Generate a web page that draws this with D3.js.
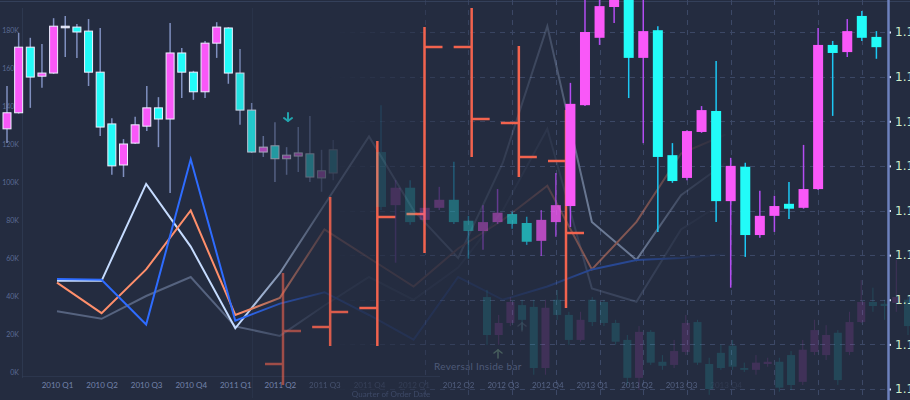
<!DOCTYPE html>
<html><head><meta charset="utf-8">
<script src="https://cdn.jsdelivr.net/npm/d3@7"></script>
<style>
html,body{margin:0;padding:0;background:#242c40;overflow:hidden}
svg{display:block}
</style></head><body>
<svg id="c" width="910" height="400"></svg>
<script>
// ---------- DATA ----------
const quarters = ["2010 Q1","2010 Q2","2010 Q3","2010 Q4","2011 Q1","2011 Q2","2011 Q3","2011 Q4",
                  "2012 Q1","2012 Q2","2012 Q3","2012 Q4","2013 Q1","2013 Q2","2013 Q3","2013 Q4"];
const kTicks = [0,20,40,60,80,100,120,140,160,180];
const priceTicks = [1.1100,1.1110,1.1120,1.1130,1.1140,1.1150,1.1160,1.1170,1.1180];

// line series (thousands)
const seriesLight  = [48,48,99,66,23,52,88,124,85,60,110,182,79,59,93,110];
const seriesBlue   = [49,48.5,25,112,27,36,42,30,17,50,38,45,54,59,60,62];
const seriesOrange = [47,31,54,85,30,39,75,60,45,65,80,98,54,79,115,125];
const seriesGray   = [32,28,40,50,24,19,35,50,38,55,85,128,44,37,75,90];

// left candle set [open, high, low, close]
const leftCandles = [
 [1.11583,1.11679,1.11551,1.11619],[1.11619,1.11798,1.11617,1.11766],[1.11766,1.11787,1.11630,1.11699],
 [1.11701,1.11773,1.11675,1.11708],[1.11708,1.11831,1.11706,1.11813],[1.11813,1.11836,1.11744,1.11813],
 [1.11811,1.11818,1.11742,1.11800],[1.11802,1.11829,1.11679,1.11710],[1.11710,1.11809,1.11567,1.11587],
 [1.11594,1.11607,1.11480,1.11500],[1.11502,1.11560,1.11475,1.11549],[1.11551,1.11610,1.11549,1.11592],
 [1.11589,1.11679,1.11578,1.11630],[1.11630,1.11654,1.11542,1.11605],[1.11605,1.11820,1.11439,1.11753],
 [1.11753,1.11764,1.11652,1.11710],[1.11710,1.11713,1.11648,1.11666],[1.11666,1.11780,1.11652,1.11775],
 [1.11775,1.11822,1.11742,1.11811],[1.11809,1.11811,1.11684,1.11708],[1.11708,1.11762,1.11592,1.11625],
 [1.11625,1.11641,1.11529,1.11531],[1.11531,1.11567,1.11520,1.11542],[1.11545,1.11598,1.11464,1.11516],
 [1.11516,1.11542,1.11480,1.11524],[1.11522,1.11587,1.11486,1.11529],[1.11527,1.11612,1.11464,1.11475],
 [1.11473,1.11536,1.11442,1.11489],[1.11536,1.11558,1.11468,1.11484]
];

// right candle set [open, high, low, close]
const rightCandles = [
 [1.11531,1.11636,1.11401,1.11408],[1.11412,1.11468,1.11283,1.11451],[1.11451,1.11468,1.11368,1.11374],
 [1.11379,1.11424,1.11370,1.11406],[1.11406,1.11453,1.11401,1.11424],[1.11424,1.11509,1.11370,1.11374],
 [1.11377,1.11388,1.11292,1.11354],[1.11354,1.11412,1.11312,1.11374],[1.11374,1.11448,1.11370,1.11395],
 [1.11392,1.11397,1.11359,1.11370],[1.11372,1.11386,1.11323,1.11330],[1.11332,1.11401,1.11298,1.11379],
 [1.11374,1.11484,1.11341,1.11412],[1.11410,1.11686,1.11363,1.11639],[1.11636,1.11883,1.11634,1.11800],
 [1.11787,1.11876,1.11771,1.11858],[1.11856,1.11920,1.11820,1.11895],[1.11900,1.11915,1.11652,1.11742],
 [1.11742,1.11883,1.11551,1.11802],[1.11804,1.11813,1.11352,1.11520],[1.11524,1.11551,1.11462,1.11466],
 [1.11473,1.11580,1.11468,1.11578],[1.11576,1.11634,1.11574,1.11625],[1.11623,1.11735,1.11374,1.11421],
 [1.11421,1.11518,1.11227,1.11500],[1.11498,1.11507,1.11296,1.11345],[1.11345,1.11444,1.11339,1.11388],
 [1.11388,1.11433,1.11352,1.11410],[1.11415,1.11464,1.11381,1.11404],[1.11406,1.11547,1.11404,1.11448],
 [1.11448,1.11809,1.11446,1.11771],[1.11771,1.11780,1.11612,1.11753],[1.11755,1.11829,1.11744,1.11802],
 [1.11836,1.11847,1.11780,1.11787],[1.11789,1.11802,1.11740,1.11766]
];

// faint background candle set [open, high, low, close]
const ghostCandles = [
 [1.11206,1.11222,1.11099,1.11121],[1.11121,1.11166,1.11099,1.11148],[1.11148,1.11206,1.11141,1.11195],
 [1.11188,1.11200,1.11132,1.11155],[1.11184,1.11200,1.11032,1.11047],[1.11047,1.11200,1.11032,1.11182],
 [1.11200,1.11222,1.11155,1.11166],[1.11166,1.11173,1.11099,1.11110],[1.11110,1.11173,1.11106,1.11155],
 [1.11200,1.11206,1.11141,1.11150],[1.11195,1.11200,1.11141,1.11148],[1.11148,1.11155,1.11099,1.11106],
 [1.11110,1.11121,1.11009,1.11025],[1.11025,1.11141,1.10998,1.11128],[1.11128,1.11132,1.11054,1.11059],
 [1.11061,1.11076,1.11043,1.11052],[1.11054,1.11110,1.11047,1.11085],[1.11083,1.11166,1.11076,1.11148],
 [1.11150,1.11155,1.11054,1.11059],[1.11056,1.11070,1.10987,1.11000],[1.11081,1.11099,1.11043,1.11047],
 [1.11097,1.11110,1.11043,1.11050],[1.11047,1.11059,1.11038,1.11043],[1.11043,1.11076,1.11032,1.11059],
 [1.11056,1.11070,1.11050,1.11061],[1.11061,1.11070,1.10994,1.11003],[1.11076,1.11085,1.10998,1.11009],
 [1.11016,1.11110,1.11009,1.11088],[1.11083,1.11155,1.11076,1.11132],[1.11076,1.11143,1.11065,1.11121],
 [1.11126,1.11132,1.11009,1.11020],[1.11083,1.11173,1.11076,1.11150],[1.11150,1.11244,1.11148,1.11195],
 [1.11195,1.11227,1.11173,1.11186],[1.11191,1.11200,1.11155,1.11186],[1.11193,1.11289,1.11173,1.11206],
 [1.11200,1.11206,1.11121,1.11141]
];

// open-high-low-close bars (index units)
const hlcOpen  = [9,18.25,23,46.5,88.25,69.25,59.75];
const hlcHigh  = [31.75,50.75,64.75,93.25,98,88.5,72.5];
const hlcLow   = [3.75,13.5,13.5,36.75,60.75,55.75,23];
const hlcClose = [17.25,22,45.75,88.25,70.25,60.75,41.75];

// ---------- SETUP ----------
const W = 910, H = 400;
const svg = d3.select("#c");
const defs = svg.append("defs");
svg.append("rect").attr("width",W).attr("height",H).attr("fill","#242c40");

function fadeMask(id, stops){
  const lg = defs.append("linearGradient").attr("id",id+"g").attr("gradientUnits","userSpaceOnUse")
    .attr("x1",0).attr("x2",W).attr("y1",0).attr("y2",0);
  stops.forEach(([x,o]) => lg.append("stop").attr("offset",x/W).attr("stop-color","#fff").attr("stop-opacity",o));
  defs.append("mask").attr("id",id).attr("maskUnits","userSpaceOnUse").attr("x",0).attr("y",0)
    .attr("width",W).attr("height",H).append("rect").attr("width",W).attr("height",H).attr("fill",`url(#${id}g)`);
}
fadeMask("mLines",[[0,1],[240,1],[285,0.5],[325,0.16],[380,0.1],[500,0.09],[547,0.18],[590,0.45],[640,0.42],[690,0.12],[735,0]]);
fadeMask("mGrid",[[0,0],[330,0],[430,0.6],[520,1],[W,1]]);

const xQ = d3.scalePoint().domain(quarters).range([57,725.6]);
const yK = d3.scaleLinear().domain([0,180]).range([372,30]);
const yP = d3.scaleLinear().domain([1.1100,1.1180]).range([389,32]);
const xL = d3.scaleLinear().domain([0,28]).range([7,333.2]);
const xR = d3.scaleLinear().domain([0,34]).range([381,876.4]);
const xG = d3.scaleLinear().domain([0,36]).range([487,908]);
const xH = d3.scaleLinear().domain([0,6]).range([283,566]);
const yH = d3.scaleLinear().domain([0,100]).range([400,0]);

const UP = "#f958f8", DOWN = "#22fbf8";

// ---------- FAINT FRAME LINES ----------
const frame = svg.append("g").attr("stroke","#34405a").attr("stroke-width",1);
frame.append("line").attr("x1",0).attr("x2",W).attr("y1",1.5).attr("y2",1.5);
frame.append("line").attr("x1",22.5).attr("x2",22.5).attr("y1",8).attr("y2",378).attr("opacity",0.6);
frame.append("line").attr("x1",252.5).attr("x2",252.5).attr("y1",8).attr("y2",398).attr("opacity",0.35);
frame.append("line").attr("x1",22).attr("x2",440).attr("y1",376.5).attr("y2",376.5).attr("opacity",0.5);

// ---------- GRID ----------
const grid = svg.append("g").attr("mask","url(#mGrid)").attr("stroke","#3c4866").attr("stroke-width",1).attr("stroke-dasharray","5,5");
grid.selectAll(".h").data(priceTicks).join("line").attr("class","h")
  .attr("x1",300).attr("x2",888).attr("y1",d=>Math.round(yP(d))+0.5).attr("y2",d=>Math.round(yP(d))+0.5);
grid.selectAll(".v").data(d3.range(3,34,3)).join("line").attr("class","v")
  .attr("x1",d=>Math.round(xR(d))+0.5).attr("x2",d=>Math.round(xR(d))+0.5).attr("y1",0).attr("y2",H);

// ---------- CANDLE HELPER ----------
function candles(g, data, xs, bw, opFn, o){
  const items = data.map((d,i)=>({i,open:d[0],high:d[1],low:d[2],close:d[3]}));
  const gg = g.selectAll("g").data(items).join("g").attr("opacity",d=>opFn(xs(d.i)));
  gg.append("line").attr("x1",d=>xs(d.i)).attr("x2",d=>xs(d.i))
    .attr("y1",d=>yP(d.high)).attr("y2",d=>yP(d.low))
    .attr("stroke",d=>d.close>d.open?o.wickUp:(d.close<d.open?o.wickDown:o.wickDoji))
    .attr("stroke-width",o.wickW);
  gg.append("rect").attr("x",d=>xs(d.i)-bw/2).attr("width",bw)
    .attr("y",d=>yP(Math.max(d.open,d.close)))
    .attr("height",d=>Math.max(1.6,Math.abs(yP(d.open)-yP(d.close))))
    .attr("fill",d=>d.close>d.open?UP:(d.close<d.open?DOWN:o.doji))
    .attr("stroke",o.stroke||"none").attr("stroke-width",o.stroke?1:0);
}

// ghost candles
candles(svg.append("g"), ghostCandles, xG, 8, ()=>0.13,
  {wickUp:UP,wickDown:DOWN,wickDoji:"#aaa",wickW:1,doji:"#aaa"});

// ---------- LINES ----------
const lineG = svg.append("g").attr("mask","url(#mLines)");
const line = d3.line().x((d,i)=>xQ(quarters[i])).y(d=>yK(d));
[[seriesGray,"#56637f"],[seriesLight,"#c6dcff"],[seriesOrange,"#ff8f6b"],[seriesBlue,"#2e6cff"]].forEach(([s,c])=>{
  lineG.append("path").datum(s).attr("d",line).attr("fill","none").attr("stroke",c)
    .attr("stroke-width",2).attr("stroke-linejoin","miter");
});

// ---------- LEFT AXIS ----------
const la = svg.append("g").attr("transform","translate(19,0)")
  .call(d3.axisLeft(yK).tickValues(kTicks).tickFormat(d=>d+"K").tickSize(0).tickPadding(0));
la.select(".domain").remove();
la.selectAll("text").attr("fill","#5b6b94").attr("font-size",7).attr("font-family","Lato, 'Open Sans', sans-serif");

// ---------- BOTTOM AXIS ----------
const labOp = d3.scaleLinear().domain([280,320,365,415,455,500,685,720]).range([1,0.45,0.22,0.2,0.55,0.65,0.6,0.15]).clamp(true);
const ba = svg.append("g").attr("transform","translate(0,379)")
  .call(d3.axisBottom(xQ).tickSize(0).tickPadding(3));
ba.select(".domain").remove();
ba.selectAll("text").attr("fill","#7383ab").attr("font-size",8).attr("font-family","Lato, 'Open Sans', sans-serif")
  .attr("opacity",d=>labOp(xQ(d)));
svg.append("text").attr("x",391).attr("y",397).attr("text-anchor","middle").attr("font-size",8)
  .attr("font-family","Lato, 'Open Sans', sans-serif").attr("fill","#5b6b94").attr("opacity",0.45)
  .text("Quarter of Order Date");

// ---------- OHLC BARS ----------
const hOp = d3.scaleLinear().domain([283,330,377]).range([0.6,0.88,1]).clamp(true);
const hb = svg.append("g").attr("stroke","#f2634e").attr("stroke-width",2.5);
hlcOpen.forEach((o,i)=>{
  const x = xH(i);
  const g = hb.append("g").attr("opacity",hOp(x));
  g.append("line").attr("x1",x).attr("x2",x).attr("y1",yH(hlcHigh[i])).attr("y2",yH(hlcLow[i]));
  g.append("line").attr("x1",x-18).attr("x2",x).attr("y1",yH(o)).attr("y2",yH(o));
  g.append("line").attr("x1",x).attr("x2",x+18).attr("y1",yH(hlcClose[i])).attr("y2",yH(hlcClose[i]));
});

// ---------- LEFT CANDLES ----------
const opL = d3.scaleLinear().domain([0,232,245,258,270,290,312,335]).range([1,1,0.8,0.7,0.55,0.45,0.3,0.12]).clamp(true);
candles(svg.append("g"), leftCandles, xL, 8, opL,
  {wickUp:"#7f8fbf",wickDown:"#7f8fbf",wickDoji:"#7f8fbf",wickW:1.5,doji:"#dfe3f2",stroke:"#eef0ff"});

// ---------- RIGHT CANDLES ----------
const opR = d3.scaleLinear().domain([381,440,500,540,560,570]).range([0.12,0.25,0.45,0.68,0.8,1]).clamp(true);
candles(svg.append("g"), rightCandles, xR, 10, opR,
  {wickUp:"#b44cf2",wickDown:"#1cc8f4",wickDoji:"#aaa",wickW:1.5,doji:"#ddd"});

// ---------- RIGHT AXIS ----------
const ra = svg.append("g").attr("transform","translate(888,0)")
  .call(d3.axisRight(yP).tickValues(priceTicks).tickFormat(d3.format(".4f")).tickSize(3).tickPadding(4).tickSizeOuter(0));
ra.select(".domain").remove();
ra.selectAll(".tick line").attr("stroke","#e4eaff").attr("stroke-width",2);
ra.selectAll("text").attr("fill","#cfeecb").attr("font-size",12).attr("font-family","'DejaVu Sans', sans-serif");
svg.append("line").attr("x1",888.5).attr("x2",888.5).attr("y1",0).attr("y2",H)
  .attr("stroke","#6d81bd").attr("stroke-width",2.5);

// ---------- ANNOTATIONS ----------
function arrow(x,y,dir,color,op,w){
  const g = svg.append("g").attr("stroke",color).attr("stroke-width",w).attr("fill","none").attr("opacity",op)
    .attr("stroke-linecap","round");
  g.append("line").attr("x1",x).attr("x2",x).attr("y1",y-4*dir).attr("y2",y+4*dir);
  g.append("polyline").attr("points",`${x-4},${y+dir} ${x},${y+4*dir} ${x+4},${y+dir}`);
}
arrow(288,117,1,"#22a4ad",1,2);
arrow(498,354,-1,"#5f7f70",0.6,1.5);
arrow(522,327,-1,"#5f7080",0.3,1.5);
svg.append("text").attr("x",434).attr("y",370).attr("font-size",10).attr("letter-spacing",0.3)
  .attr("font-family","Lato, 'Open Sans', sans-serif").attr("fill","#4e5a78").text("Reversal Inside bar");
</script>
</body></html>
